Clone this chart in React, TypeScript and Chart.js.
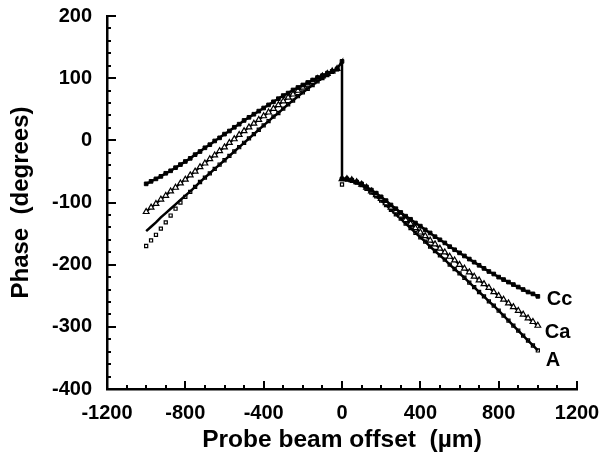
import React, { useEffect, useRef } from "react";
import { Chart, registerables } from "chart.js";

Chart.register(...registerables);

// Probe beam offsets (µm)
const X_LEFT = [-1000, -975, -950, -925, -900, -875, -850, -825, -800, -775, -750, -725, -700, -675, -650, -625, -600, -575, -550, -525, -500, -475, -450, -425, -400, -375, -350, -325, -300, -275, -250, -225, -200, -175, -150, -125, -100, -75, -50, -25];
const X_RIGHT = [0, 25, 50, 75, 100, 125, 150, 175, 200, 225, 250, 275, 300, 325, 350, 375, 400, 425, 450, 475, 500, 525, 550, 575, 600, 625, 650, 675, 700, 725, 750, 775, 800, 825, 850, 875, 900, 925, 950, 975, 1000];

// Phase (degrees)
const CC_LEFT = [-70, -66, -62, -58, -53, -49, -44, -39, -34, -29, -23, -18, -12, -7, -1, 4, 10, 15, 21, 26, 32, 37, 42, 47, 52, 57, 62, 67, 72, 76, 81, 85, 89, 93, 97, 101, 104, 108, 111, 115];
const CC_TOP = 127;
const CC_RIGHT = [-62, -62, -64, -67, -70, -75, -80, -85, -91, -97, -104, -110, -116, -122, -127, -133, -138, -144, -149, -155, -160, -165, -171, -176, -181, -186, -191, -196, -201, -206, -211, -215, -220, -224, -228, -232, -236, -240, -244, -247, -251];

const CA_LEFT = [-115, -108, -102, -95, -89, -82, -76, -69, -63, -56, -50, -43, -37, -30, -24, -17, -11, -4, 2, 9, 15, 21, 27, 33, 39, 45, 51, 57, 63, 69, 74, 80, 85, 90, 94, 99, 103, 107, 111, 115];
const CA_RIGHT = [-62, -62, -64, -67, -71, -76, -82, -88, -94, -101, -108, -114, -121, -128, -134, -141, -148, -154, -161, -167, -174, -180, -187, -193, -200, -206, -212, -219, -225, -231, -237, -244, -250, -256, -262, -268, -274, -280, -286, -292, -298];

const A_LINE_LEFT = [-146, -139, -132, -124, -117, -110, -103, -96, -89, -82, -75, -67, -60, -53, -46, -39, -32, -25, -18, -11, -4, 3, 10, 17, 24, 31, 38, 44, 51, 58, 64, 71, 77, 83, 89, 95, 100, 105, 110, 114];
const A_MARK_LEFT = [-170, -161, -152, -142, -132, -121, -110, -100, -91, -83, -75, -67, -60, -53, -46, -39, -32, -25, -18, -11, -4, 3, 10, 17, 24, 31, 38, 44, 51, 58, 64, 71, 77, 83, 89, 95, 100, 105, 110, 114];
const A_ZERO_MARK = -71;
const A_RIGHT = [-62, -63, -65, -68, -72, -78, -84, -90, -97, -104, -112, -119, -126, -134, -141, -149, -156, -163, -171, -178, -185, -192, -200, -207, -214, -221, -229, -236, -244, -251, -259, -266, -274, -282, -290, -298, -306, -314, -322, -330, -338];

const SERIES_LABELS = ["Cc", "Ca", "A"];
const X_TITLE = "Probe beam offset  (\u00b5m)";
const Y_TITLE = "Phase  (degrees)";

const FONT = "'Liberation Sans', Arial, Helvetica, sans-serif";

const pts = (xs: number[], ys: number[]) => xs.map((x, i) => ({ x, y: ys[i] }));

const zeroPad = (s: any) => {
  s.paddingTop = 0;
  s.paddingBottom = 0;
  s.paddingLeft = 0;
  s.paddingRight = 0;
};

export default function App() {
  const ref = useRef<HTMLCanvasElement | null>(null);

  useEffect(() => {
    if (!ref.current) return;

    const ccData = [...pts(X_LEFT, CC_LEFT), { x: 0, y: CC_TOP }, ...pts(X_RIGHT, CC_RIGHT)];
    const caData = [...pts(X_LEFT, CA_LEFT), { x: 0, y: null as any }, ...pts(X_RIGHT, CA_RIGHT)];
    const aLine = [...pts(X_LEFT, A_LINE_LEFT), { x: 0, y: null as any }, ...pts(X_RIGHT, A_RIGHT)];
    const aMarks = [...pts(X_LEFT, A_MARK_LEFT), { x: 0, y: A_ZERO_MARK }, ...pts(X_RIGHT.slice(1), A_RIGHT.slice(1))];

    const lastX = X_RIGHT[X_RIGHT.length - 1];
    const lastPts = [
      { x: lastX, y: CC_RIGHT[CC_RIGHT.length - 1], dx: 9, dy: 3 },
      { x: lastX, y: CA_RIGHT[CA_RIGHT.length - 1], dx: 7, dy: 7 },
      { x: lastX, y: A_RIGHT[A_RIGHT.length - 1], dx: 8, dy: 10 },
    ];

    const decor = {
      id: "decor",
      afterDraw(chart: any) {
        const ctx = chart.ctx;
        const xs = chart.scales.x;
        const ys = chart.scales.y;
        const { left, bottom } = chart.chartArea;
        ctx.save();
        ctx.strokeStyle = "#000";
        ctx.lineWidth = 2;
        for (let v = -1200; v <= 1200; v += 100) {
          const px = Math.round(xs.getPixelForValue(v));
          const len = v % 400 === 0 ? 8 : 4;
          ctx.beginPath();
          ctx.moveTo(px, bottom);
          ctx.lineTo(px, bottom - len);
          ctx.stroke();
        }
        for (let v = -400; v <= 200; v += 20) {
          const py = Math.round(ys.getPixelForValue(v));
          const len = v % 100 === 0 ? 9 : 4;
          ctx.beginPath();
          ctx.moveTo(left, py);
          ctx.lineTo(left + len, py);
          ctx.stroke();
        }
        ctx.fillStyle = "#000";
        ctx.font = `bold 20px ${FONT}`;
        ctx.textAlign = "left";
        ctx.textBaseline = "middle";
        SERIES_LABELS.forEach((lab, i) => {
          const p = lastPts[i];
          ctx.fillText(lab, xs.getPixelForValue(p.x) + p.dx, ys.getPixelForValue(p.y) + p.dy);
        });
        ctx.restore();
      },
    };

    const chart = new Chart(ref.current, {
      type: "line",
      data: {
        datasets: [
          {
            data: ccData,
            borderColor: "#000",
            borderWidth: 2.5,
            pointStyle: "rect",
            pointRadius: 2.6,
            pointBackgroundColor: "#000",
            pointBorderColor: "#000",
            pointBorderWidth: 1,
            tension: 0,
          },
          {
            data: caData,
            borderColor: "#000",
            borderWidth: 2,
            pointStyle: "triangle",
            pointRadius: 3.3,
            pointBackgroundColor: "#fff",
            pointBorderColor: "#000",
            pointBorderWidth: 1.2,
            tension: 0,
          },
          {
            data: aLine,
            borderColor: "#000",
            borderWidth: 2.5,
            pointRadius: 0,
            tension: 0,
          },
          {
            data: aMarks,
            showLine: false,
            pointStyle: "rect",
            pointRadius: 2.2,
            pointBackgroundColor: "#fff",
            pointBorderColor: "#000",
            pointBorderWidth: 1.2,
          },
        ] as any,
      },
      options: {
        animation: false,
        responsive: false,
        events: [],
        layout: { padding: { top: 16, right: 28, left: 0, bottom: 0 } },
        plugins: { legend: { display: false }, tooltip: { enabled: false } },
        scales: {
          x: {
            type: "linear",
            min: -1200,
            max: 1200,
            afterFit: (s: any) => { s.height = 73; zeroPad(s); },
            grid: { display: false, drawTicks: false },
            border: { display: true, color: "#000", width: 2.5 },
            ticks: {
              stepSize: 400,
              color: "#000",
              padding: 12,
              callback: (v: any) => String(v),
              font: { family: FONT, size: 20, weight: "bold" },
            },
            title: {
              display: true,
              text: X_TITLE,
              color: "#000",
              font: { family: FONT, size: 24.5, weight: "bold" },
              padding: { top: 0, bottom: 7 },
            },
          },
          y: {
            min: -400,
            max: 200,
            afterFit: (s: any) => { s.width = 107; zeroPad(s); },
            grid: { display: false, drawTicks: false },
            border: { display: true, color: "#000", width: 2.5 },
            ticks: {
              stepSize: 100,
              color: "#000",
              padding: 15,
              callback: (v: any) => String(v),
              font: { family: FONT, size: 20, weight: "bold" },
            },
            title: {
              display: true,
              text: Y_TITLE,
              color: "#000",
              font: { family: FONT, size: 24, weight: "bold" },
              padding: { top: 7, bottom: 0 },
            },
          },
        },
      },
      plugins: [decor],
    } as any);

    return () => chart.destroy();
  }, []);

  return (
    <div style={{ position: "absolute", left: 0, top: 0, width: 605, height: 462, background: "#fff" }}>
      <canvas ref={ref} width={605} height={462} style={{ width: 605, height: 462, display: "block" }} />
    </div>
  );
}
